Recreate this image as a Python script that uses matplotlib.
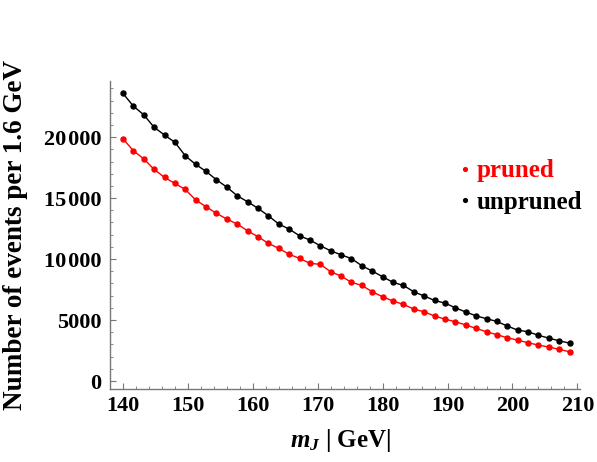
import numpy as np
import matplotlib
matplotlib.use("Agg")
import matplotlib.pyplot as plt
from matplotlib.ticker import MultipleLocator, FuncFormatter

plt.rcParams['font.family'] = ['Liberation Serif', 'DejaVu Serif']
plt.rcParams['font.weight'] = 'bold'
plt.rcParams['mathtext.fontset'] = 'custom'
plt.rcParams['mathtext.it'] = 'Liberation Serif:italic:bold'
plt.rcParams['mathtext.rm'] = 'Liberation Serif:bold'

# bin centres, 1.6 GeV wide
m_j = [140.0 + 1.6 * i for i in range(44)]

unpruned = [23580, 22540, 21830, 20800, 20170, 19570, 18470, 17760, 17190, 16500, 15900,
            15190, 14700, 14160, 13550, 12870, 12460, 11910, 11560, 11090, 10680, 10350,
            10040, 9450, 9020, 8550, 8090, 7840, 7320, 6970, 6610, 6390, 6010,
            5660, 5350, 5110, 4890, 4510, 4180, 4040, 3750, 3520, 3300, 3110]

pruned = [19860, 18880, 18220, 17350, 16700, 16200, 15710, 14840, 14290, 13750, 13280,
          12870, 12320, 11830, 11290, 10880, 10390, 10060, 9650, 9570, 8960, 8610,
          8090, 7840, 7320, 6910, 6560, 6290, 5900, 5680, 5330, 5080, 4860,
          4600, 4320, 4040, 3800, 3550, 3360, 3140, 2950, 2790, 2600, 2400]

fig = plt.figure(figsize=(5.97, 4.62), dpi=100)
ax = fig.add_axes([110 / 597, 1 - 389 / 462, 470 / 597, 308 / 462])

ax.plot(m_j, pruned, color='red', lw=1.0, marker='o', ms=3.6, label='pruned')
ax.plot(m_j, unpruned, color='black', lw=1.0, marker='o', ms=3.6, label='unpruned')

ax.set_xlim(138.0, 210.4)
ax.set_ylim(-650, 24600)

for side in ['top', 'right']:
    ax.spines[side].set_visible(False)
for side in ['left', 'bottom']:
    ax.spines[side].set_color('#777777')
    ax.spines[side].set_linewidth(1.0)

ax.xaxis.set_major_locator(MultipleLocator(10))
ax.xaxis.set_minor_locator(MultipleLocator(2))
ax.yaxis.set_major_locator(MultipleLocator(5000))
ax.yaxis.set_minor_locator(MultipleLocator(1000))
ax.yaxis.set_major_formatter(FuncFormatter(
    lambda v, p: (f"{int(v) // 1000}\u200a{int(v) % 1000:03d}" if v >= 10000 else f"{int(v)}")))
ax.tick_params(which='both', direction='in', color='#777777', labelsize=16)
ax.tick_params(axis='x', pad=5)
ax.tick_params(axis='y', pad=6)
ax.tick_params(which='major', length=4.5, width=0.8)
ax.tick_params(which='minor', length=2.5, width=0.6)

ax.set_ylabel('Number of events per 1.6 GeV', fontsize=19.5, fontweight='bold')
ax.yaxis.set_label_coords(-0.175, 0.5)
ax.set_xlabel(r'$m_J$ | GeV|', fontsize=18, fontweight='bold')
ax.xaxis.set_label_coords(0.49, -0.125)

leg = ax.legend(loc='upper left', bbox_to_anchor=(447 / 597, 1 - 147 / 462),
                bbox_transform=fig.transFigure, frameon=False, fontsize=18,
                handlelength=0.4, handletextpad=0.3, labelspacing=0.33,
                borderpad=0, labelcolor='linecolor', markerscale=0.75)
for h in leg.get_lines():
    h.set_linestyle('none')

fig.savefig('out.png', dpi=100)
